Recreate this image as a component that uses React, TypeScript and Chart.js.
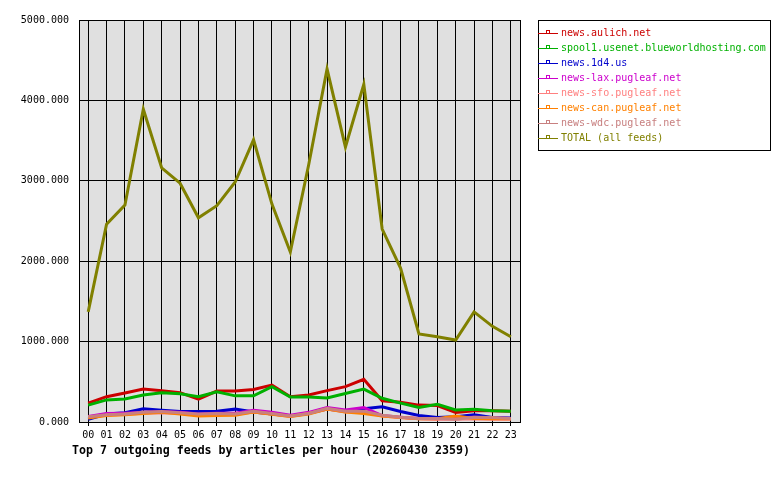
import React, { useEffect, useRef } from "react";
import { Chart, registerables } from "chart.js";

Chart.register(...registerables);

const hours = ["00","01","02","03","04","05","06","07","08","09","10","11","12","13","14","15","16","17","18","19","20","21","22","23"];
const yTicks = [0, 1000, 2000, 3000, 4000, 5000];

const aulich = [235,315,360,410,390,365,285,385,385,405,460,315,335,390,440,530,265,245,210,205,120,140,140,135];
const spool1 = [210,275,285,335,365,350,315,375,325,325,440,310,310,300,355,410,295,235,180,220,150,160,140,135];
const d4 = [35,100,115,165,145,130,130,135,160,125,100,75,110,160,130,165,190,130,80,55,65,90,55,50];
const lax = [70,105,110,120,130,120,100,110,110,145,120,85,120,180,150,180,80,60,45,40,50,60,50,45];
const sfo = [60,85,95,110,115,105,90,95,95,125,100,70,105,160,125,130,75,55,40,35,35,40,35,35];
const can = [50,80,90,105,120,100,75,80,85,125,95,70,100,160,125,105,75,55,40,40,75,45,40,40];
const wdc = [65,90,100,120,130,115,100,105,100,135,105,75,105,170,135,135,85,60,45,45,35,60,55,45];
const total = [1370,2460,2700,3890,3160,2970,2540,2690,2985,3510,2710,2115,3200,4390,3420,4200,2400,1915,1095,1060,1020,1370,1190,1060];

const seriesNames = [
  "news.aulich.net",
  "spool1.usenet.blueworldhosting.com",
  "news.1d4.us",
  "news-lax.pugleaf.net",
  "news-sfo.pugleaf.net",
  "news-can.pugleaf.net",
  "news-wdc.pugleaf.net",
  "TOTAL (all feeds)",
];
const seriesData = [aulich, spool1, d4, lax, sfo, can, wdc, total];
const seriesColors = ["#cc0000", "#00b000", "#0000cc", "#cc00cc", "#ff8080", "#ff8000", "#c88080", "#808000"];
const titleText = "Top 7 outgoing feeds by articles per hour (20260430 2359)";

const MONO = '"DejaVu Sans Mono", "Liberation Mono", monospace';

const framePlugin = {
  id: "frame",
  beforeDraw(chart: any) {
    const { ctx, chartArea } = chart;
    ctx.save();
    ctx.fillStyle = "#ffffff";
    ctx.fillRect(0, 0, chart.width, chart.height);
    ctx.fillStyle = "#e0e0e0";
    ctx.fillRect(chartArea.left, chartArea.top, chartArea.right - chartArea.left, chartArea.bottom - chartArea.top);
    ctx.restore();
  },
  beforeDatasetsDraw(chart: any) {
    const { ctx, chartArea } = chart;
    ctx.save();
    ctx.strokeStyle = "#000000";
    ctx.lineWidth = 1;
    ctx.strokeRect(Math.round(chartArea.left) + 0.5, Math.round(chartArea.top) + 0.5,
      Math.round(chartArea.right - chartArea.left), Math.round(chartArea.bottom - chartArea.top));
    ctx.restore();
  },
  afterDraw(chart: any) {
    const { ctx } = chart;
    ctx.save();
    // legend
    const bx = 538, by = 20, bw = 232, bh = 130;
    ctx.strokeStyle = "#000000";
    ctx.lineWidth = 1;
    ctx.strokeRect(bx + 0.5, by + 0.5, bw, bh);
    ctx.font = "10px " + MONO;
    ctx.textBaseline = "middle";
    ctx.textAlign = "left";
    chart.data.datasets.forEach((ds: any, i: number) => {
      const y = Math.round(33 + i * 15) + 0.5;
      ctx.strokeStyle = ds.borderColor;
      ctx.lineWidth = 1;
      ctx.beginPath();
      ctx.moveTo(bx, y);
      ctx.lineTo(bx + 20, y);
      ctx.stroke();
      ctx.strokeRect(bx + 8.5, y - 3, 3, 3);
      ctx.fillStyle = ds.borderColor;
      ctx.fillText(ds.label, 561, y);
    });
    // title
    ctx.fillStyle = "#000000";
    ctx.font = "bold 11.6px " + MONO;
    ctx.textBaseline = "middle";
    ctx.fillText(titleText, 72, 451);
    ctx.restore();
  },
};

export default function App() {
  const ref = useRef<HTMLCanvasElement | null>(null);
  useEffect(() => {
    document.body.style.margin = "0";
    const canvas = ref.current;
    if (!canvas) return;
    const chart = new Chart(canvas, {
      type: "line",
      data: {
        labels: hours,
        datasets: seriesData.map((d, i) => ({
          label: seriesNames[i],
          data: d,
          borderColor: seriesColors[i],
          backgroundColor: seriesColors[i],
          borderWidth: 3,
          pointRadius: 0,
          tension: 0,
          fill: false,
          order: seriesData.length - i,
        })),
      },
      options: {
        responsive: false,
        animation: false,
        devicePixelRatio: 1,
        layout: { padding: { top: 20, right: 260, bottom: 0, left: 0 } },
        plugins: {
          legend: { display: false },
          title: { display: false },
          tooltip: { enabled: false },
        },
        scales: {
          x: {
            type: "category",
            offset: true,
            grid: { offset: false, color: "#000000", lineWidth: 1, drawTicks: true, tickLength: 4, tickColor: "#000000" },
            border: { display: true, color: "#000000" },
            ticks: { color: "#000000", font: { family: MONO, size: 10 }, padding: 3, maxRotation: 0, autoSkip: false },
            afterFit: (s: any) => { s.height = 58; },
          },
          y: {
            min: 0,
            max: 5000,
            afterBuildTicks: (s: any) => { s.ticks = yTicks.map((v) => ({ value: v })); },
            grid: { color: "#000000", lineWidth: 1, drawTicks: false },
            border: { display: true, color: "#000000" },
            ticks: {
              color: "#000000",
              font: { family: MONO, size: 10 },
              padding: 10,
              callback: (v: any) => Number(v).toFixed(3),
            },
            afterFit: (s: any) => { s.width = 79; },
          },
        },
      },
      plugins: [framePlugin],
    });
    return () => chart.destroy();
  }, []);
  return <canvas ref={ref} width={780} height={480} style={{ display: "block" }} />;
}
